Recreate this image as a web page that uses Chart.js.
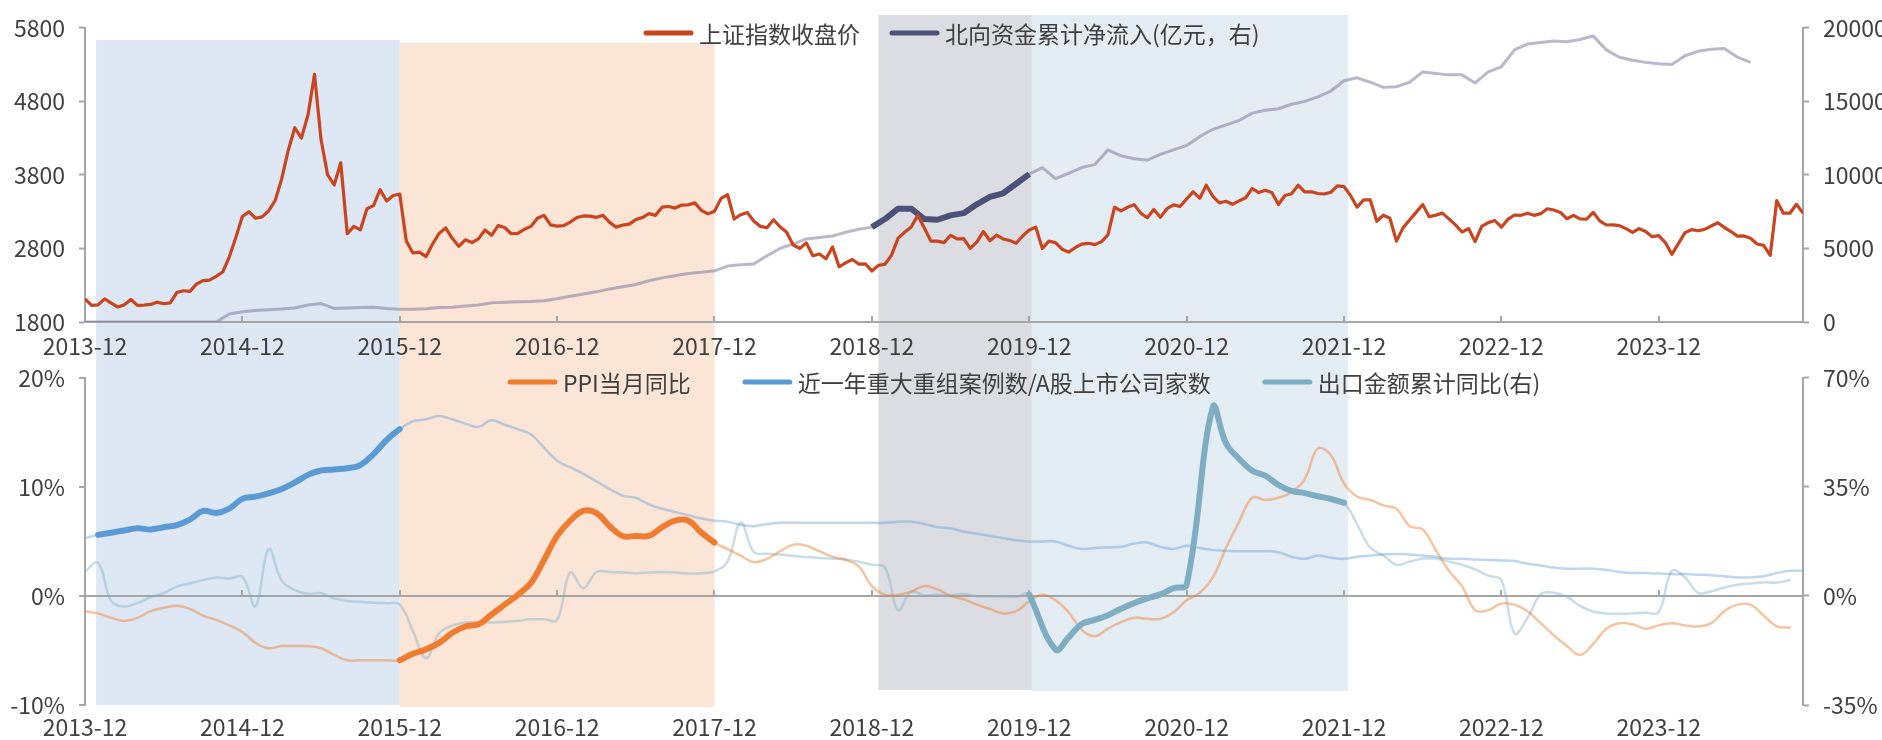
<!DOCTYPE html>
<html>
<head>
<meta charset="utf-8">
<script src="https://cdn.jsdelivr.net/npm/chart.js@4.4.1/dist/chart.umd.min.js"></script>
<style>
  body { margin: 0; background: #fff; }
  #wrap { position: relative; width: 1882px; height: 740px; overflow: hidden; }
  canvas { position: absolute; left: 0; }
</style>
</head>
<body>
<div id="wrap">
  <canvas id="topChart" width="1882" height="362" style="top:0"></canvas>
  <canvas id="bottomChart" width="1882" height="390" style="top:350px"></canvas>
</div>
<script>
// x values are months counted from the end of 2013-12 (tick every 12 = "YYYY-12")

// 上证指数收盘价, two readings per month (mid / end), first value = 2013-12 close
const sseStep = 0.5;
const sseClose = [
  2116,
  // 2014
  2025, 2033, 2115, 2056, 2004, 2033, 2105, 2026, 2030, 2039, 2070, 2048,
  2060, 2200, 2225, 2217, 2315, 2363, 2370, 2420, 2480, 2683, 2950, 3235,
  // 2015
  3300, 3210, 3230, 3310, 3450, 3748, 4135, 4441, 4300, 4612, 5166, 4277,
  3800, 3663, 3965, 3000, 3100, 3053, 3340, 3383, 3600, 3445, 3520, 3539,
  // 2016
  2900, 2738, 2750, 2688, 2860, 3004, 3080, 2938, 2830, 2917, 2880, 2930,
  3050, 2979, 3110, 3085, 3000, 3005, 3060, 3100, 3210, 3250, 3120, 3104,
  // 2017
  3110, 3159, 3220, 3242, 3240, 3223, 3250, 3155, 3090, 3117, 3130, 3192,
  3220, 3273, 3250, 3361, 3370, 3349, 3390, 3393, 3420, 3317, 3270, 3307,
  // 2018
  3480, 3530, 3200, 3259, 3290, 3169, 3100, 3082, 3190, 3095, 3020, 2847,
  2800, 2876, 2700, 2725, 2660, 2821, 2550, 2603, 2650, 2588, 2590, 2494,
  // 2019
  2570, 2585, 2710, 2941, 3020, 3091, 3250, 3078, 2900, 2899, 2880, 2979,
  2930, 2933, 2800, 2886, 3030, 2905, 2980, 2929, 2910, 2871, 2970, 3050,
  // 2020
  3090, 2800, 2900, 2880, 2790, 2750, 2810, 2860, 2870, 2852, 2890, 2985,
  3360, 3310, 3360, 3396, 3280, 3218, 3330, 3225, 3340, 3392, 3370, 3473,
  // 2021
  3570, 3483, 3660, 3509, 3420, 3441, 3400, 3447, 3490, 3615, 3560, 3591,
  3560, 3397, 3520, 3544, 3660, 3568, 3570, 3547, 3540, 3564, 3650, 3640,
  // 2022
  3520, 3361, 3460, 3462, 3170, 3252, 3210, 2900, 3080, 3186, 3290, 3398,
  3230, 3253, 3280, 3202, 3120, 3024, 3070, 2893, 3100, 3151, 3180, 3089,
  // 2023
  3195, 3255, 3250, 3280, 3250, 3273, 3340, 3323, 3290, 3204, 3250, 3202,
  3200, 3291, 3175, 3119, 3120, 3110, 3070, 3018, 3070, 3030, 2960, 2975,
  // 2024
  2880, 2720, 2865, 3015, 3055, 3041, 3060, 3105, 3150, 3087, 3030, 2967,
  2970, 2938, 2860, 2842, 2705, 3450, 3280, 3279, 3400, 3280
];

// 北向资金累计净流入(亿元), month end from 2013-12
const northFlow = [
  0, 0, 0, 0, 0, 0, 0, 0, 0, 0, 0, 550, 700,
  780, 830, 880, 950, 1150, 1250, 920, 960, 980, 1000, 920, 870,
  860, 900, 980, 1000, 1080, 1150, 1300, 1350, 1380, 1400, 1450, 1580,
  1750, 1900, 2050, 2250, 2400, 2550, 2800, 3000, 3150, 3300, 3380, 3480,
  3800, 3900, 3950, 4500, 5000, 5300, 5650, 5750, 5850, 6100, 6300, 6450,
  7000, 7700, 7700, 7000, 6950, 7250, 7400, 8000, 8500, 8750, 9400, 10050,
  10500, 9750, 10100, 10500, 10700, 11700, 11300, 11100, 11000, 11400, 11700, 12000,
  12600, 13100, 13400, 13700, 14200, 14400, 14500, 14800, 15000, 15300, 15700, 16400,
  16600, 16300, 15950, 16000, 16300, 17000, 16900, 16800, 16800, 16250, 17000, 17350,
  18500, 18900, 19000, 19100, 19050, 19200, 19450, 18500, 18000, 17800, 17650, 17550,
  17500, 18100, 18400, 18550, 18600, 18000, 17650
];

// PPI当月同比 (%), month end from 2013-12
const ppiYoY = [
  -1.4,
  -1.6, -2.0, -2.3, -2.0, -1.4, -1.1, -0.9, -1.2, -1.8, -2.2, -2.7, -3.3,
  -4.3, -4.8, -4.6, -4.6, -4.6, -4.8, -5.4, -5.9, -5.9, -5.9, -5.9, -5.9,
  -5.3, -4.9, -4.3, -3.4, -2.8, -2.6, -1.7, -0.8, 0.1, 1.2, 3.3, 5.5,
  6.9, 7.8, 7.6, 6.4, 5.5, 5.5, 5.5, 6.3, 6.9, 6.9, 5.8, 4.9,
  4.3, 3.7, 3.1, 3.4, 4.1, 4.7, 4.6, 4.1, 3.6, 3.3, 2.7, 0.9,
  0.1, 0.1, 0.4, 0.9, 0.6, 0.0, -0.3, -0.8, -1.2, -1.6, -1.4, -0.5,
  0.1, -0.4, -1.5, -3.1, -3.7, -3.0, -2.4, -2.0, -2.1, -2.1, -1.5, -0.4,
  0.3, 1.7, 4.4, 6.8, 9.0, 8.8, 9.0, 9.5, 10.7, 13.5, 12.9, 10.3,
  9.1, 8.8, 8.3, 8.0, 6.4, 6.1, 4.2, 2.3, 0.9, -1.3, -1.3, -0.7,
  -0.8, -1.4, -2.5, -3.6, -4.6, -5.4, -4.4, -3.0, -2.5, -2.6, -3.0, -2.7,
  -2.5, -2.7, -2.8, -2.5, -1.4, -0.8, -0.8, -1.8, -2.8, -2.9
];

// 近一年重大重组案例数/A股上市公司家数 (%), month end from 2013-12
const mnaRatio = [
  5.3,
  5.6, 5.8, 6.0, 6.2, 6.1, 6.3, 6.5, 7.0, 7.8, 7.6, 8.0, 8.9,
  9.1, 9.4, 9.8, 10.4, 11.1, 11.5, 11.6, 11.7, 12.0, 13.0, 14.3, 15.3,
  16.0, 16.2, 16.5, 16.2, 15.8, 15.5, 16.1, 15.7, 15.3, 14.8, 13.6, 12.4,
  11.8, 11.2, 10.5, 9.8, 9.2, 9.0, 8.4, 8.0, 7.7, 7.4, 7.1, 6.9,
  6.8, 6.5, 6.4, 6.6, 6.7, 6.7, 6.7, 6.7, 6.7, 6.7, 6.7, 6.7,
  6.7, 6.8, 6.8, 6.6, 6.3, 6.2, 5.9, 5.7, 5.5, 5.3, 5.1, 5.0,
  5.0, 5.0, 4.6, 4.3, 4.4, 4.45, 4.5, 4.8, 4.9, 4.5, 4.3, 4.6,
  4.4, 4.2, 4.15, 4.1, 4.1, 4.1, 4.0, 3.6, 3.4, 3.7, 3.5, 3.4,
  3.6, 3.7, 3.8, 3.85, 3.8, 3.7, 3.6, 3.4, 3.4, 3.35, 3.3, 3.25,
  3.2, 2.95, 2.8, 2.6, 2.5, 2.5, 2.5, 2.4, 2.2, 2.1, 2.1, 2.06,
  2.0, 2.0, 1.95, 1.9, 1.8, 1.7, 1.7, 1.8, 2.1, 2.3, 2.3
];

// 出口金额累计同比 (%), month end from 2013-12, right axis
const exportYoY = [
  7.9,
  10.6, -1.6, -3.4, -2.3, -0.4, 0.9, 3.0, 4.0, 5.1, 5.9, 5.6, 6.1,
  -3.3, 15.0, 4.9, 1.9, 0.7, 0.9, -0.8, -1.6, -1.9, -2.2, -2.3, -2.8,
  -11.2, -20.0, -12.0, -9.5, -8.5, -8.5, -8.5, -8.3, -8.0, -7.5, -7.5, -7.7,
  7.5, 2.5, 7.7, 7.7, 7.5, 7.3, 7.5, 7.7, 7.5, 7.2, 7.3, 7.9,
  11.1, 23.5, 14.1, 13.5, 13.3, 12.8, 12.5, 12.2, 12.0, 11.7, 11.0, 10.0,
  9.1, -4.6, 1.4, 0.2, 0.5, 0.1, 0.6, -0.1, -0.1, -0.2, -0.3, 0.5,
  null, -17.2, -13.3, -9.0, -7.7, -6.2, -4.1, -2.3, -0.8, 0.5, 2.5, 3.6,
  null, 60.6, 49.0, 44.0, 40.2, 38.6, 35.6, 33.7, 33.0, 32.0, 31.1, 29.9,
  23.0, 15.5, 13.0, 10.0, 11.0, 12.0, 12.0, 11.0, 10.0, 8.5, 6.5, 5.0,
  -12.0, -7.0, 0.5, 1.0, -0.3, -3.2, -5.0, -5.6, -5.7, -5.6, -5.4, -5.2,
  8.0, 6.0, 1.0, 1.5, 2.7, 3.6, 4.0, 4.4, 4.3, 5.1
];

// highlighted windows (months)
const mnaWindow = [1, 24];
const ppiWindow = [24, 48];
const northWindow = [60, 72];
const exportWindow = [72, 96];

// shaded periods: from / to in months, vertical extent in page pixels
const periods = [
  { from: 0.85, to: 24, color: '#dee8f4', y0: 40, y1: 705 },
  { from: 24, to: 48, color: '#fbe5d7', y0: 43, y1: 707 },
  { from: 60.5, to: 72.2, color: '#dcdde3', y0: 15, y1: 690 },
  { from: 72.2, to: 96.3, color: '#e5edf4', y0: 15, y1: 691 }
];

const FONT = "'Noto Sans CJK SC', 'Noto Sans', sans-serif";
const FONT_SIZE = 23;
const TEXT = '#404040';
const AXIS = '#a6a6a6';
const X_MAX = 131;
const TOP_CANVAS_END = 362;

Chart.defaults.font.family = FONT;
Chart.defaults.font.size = FONT_SIZE;
Chart.defaults.color = TEXT;

const toPoints = (arr, step = 1) => arr.map((v, i) => ({ x: i * step, y: v }));
const inWindow = (pts, [a, b]) => pts.filter(p => p.x >= a && p.x <= b);
const yearLabel = v => `${2013 + v / 12}-12`;
const plain = v => String(v);
const pct = v => v + '%';

// pageTop: where this canvas sits on the page; pageFrom / pageTo: the slice it paints
function shading(pageTop, pageFrom, pageTo) {
  return {
    id: 'shading',
    beforeDraw(chart) {
      const { ctx, scales: { x } } = chart;
      ctx.save();
      periods.forEach(p => {
        const x0 = x.getPixelForValue(p.from);
        const x1 = x.getPixelForValue(p.to);
        const top = Math.max(p.y0, pageFrom) - pageTop;
        const bottom = Math.min(p.y1, pageTo) - pageTop;
        if (bottom <= top) return;
        ctx.fillStyle = p.color;
        ctx.fillRect(x0, top, x1 - x0, bottom - top);
      });
      ctx.restore();
    }
  };
}

function upTicks(baseOf) {
  return {
    id: 'upTicks',
    afterDatasetsDraw(chart) {
      const { ctx, scales: { x } } = chart;
      const base = baseOf(chart);
      ctx.save();
      ctx.strokeStyle = AXIS;
      ctx.lineWidth = 2;
      x.ticks.forEach(t => {
        const px = Math.round(x.getPixelForValue(t.value));
        ctx.beginPath();
        ctx.moveTo(px, base);
        ctx.lineTo(px, base - 6);
        ctx.stroke();
      });
      ctx.restore();
    }
  };
}

function lineLegend(startX, y, gap) {
  return {
    id: 'lineLegend',
    afterDraw(chart) {
      const ctx = chart.ctx;
      ctx.save();
      ctx.font = `${FONT_SIZE}px ${FONT}`;
      ctx.textBaseline = 'middle';
      let x = startX;
      chart.data.datasets.filter(d => d.inLegend).forEach(d => {
        ctx.strokeStyle = d.borderColor;
        ctx.lineWidth = 5;
        ctx.lineCap = 'round';
        ctx.beginPath();
        ctx.moveTo(x + 3, y);
        ctx.lineTo(x + 48, y);
        ctx.stroke();
        ctx.fillStyle = TEXT;
        ctx.fillText(d.label, x + 56, y + 1);
        x += 56 + ctx.measureText(d.label).width + gap;
      });
      ctx.restore();
    }
  };
}

const yAxisBase = (width, extra) => Object.assign({
  afterFit: s => { s.width = width; },
  grid: { drawOnChartArea: false, tickLength: 6, tickColor: AXIS, tickWidth: 2 },
  border: { color: AXIS, width: 2 }
}, extra);

// ---------- top chart ----------
const ssePts = toPoints(sseClose, sseStep);
const northPts = toPoints(northFlow);

new Chart(document.getElementById('topChart'), {
  type: 'line',
  data: {
    datasets: [
      { label: '上证指数收盘价', data: ssePts, borderColor: '#c9441f', borderWidth: 3.2, yAxisID: 'y', order: 0, inLegend: true },
      { label: '北向资金累计净流入(亿元，右)', data: inWindow(northPts, northWindow), borderColor: '#4d5078', borderWidth: 6, yAxisID: 'y1', order: 1, inLegend: true },
      { label: 'north-all', data: northPts, borderColor: 'rgba(118,114,150,0.5)', borderWidth: 3, yAxisID: 'y1', order: 2 }
    ]
  },
  options: {
    responsive: false,
    animation: false,
    layout: { padding: { top: 24, left: 0, right: 0, bottom: 0 } },
    elements: { point: { radius: 0 }, line: { tension: 0, borderJoinStyle: 'round' } },
    plugins: { legend: { display: false }, tooltip: { enabled: false } },
    scales: {
      x: {
        type: 'linear', min: 0, max: X_MAX,
        afterFit: s => { s.height = 40; },
        grid: { display: false, drawTicks: false },
        border: { color: AXIS, width: 2 },
        ticks: { stepSize: 12, includeBounds: false, autoSkip: false, maxRotation: 0, padding: 10, callback: yearLabel }
      },
      y: yAxisBase(85, { position: 'left', min: 1800, max: 5800, ticks: { stepSize: 1000, padding: 14, callback: plain } }),
      y1: yAxisBase(79, { position: 'right', min: 0, max: 20000, ticks: { stepSize: 5000, padding: 14, callback: plain } })
    }
  },
  plugins: [shading(0, 0, TOP_CANVAS_END), upTicks(c => c.chartArea.bottom), lineLegend(643, 33, 29)]
});

// ---------- bottom chart ----------
const ppiPts = toPoints(ppiYoY);
const mnaPts = toPoints(mnaRatio);
const exportPts = toPoints(exportYoY);

new Chart(document.getElementById('bottomChart'), {
  type: 'line',
  data: {
    datasets: [
      { label: 'PPI当月同比', data: inWindow(ppiPts, ppiWindow), borderColor: '#ee7d31', borderWidth: 6, yAxisID: 'y', order: 0, inLegend: true },
      { label: '近一年重大重组案例数/A股上市公司家数', data: inWindow(mnaPts, mnaWindow), borderColor: '#5b9bd5', borderWidth: 6, yAxisID: 'y', order: 0, inLegend: true },
      { label: '出口金额累计同比(右)', data: inWindow(exportPts, exportWindow), borderColor: '#7fadc3', borderWidth: 6, yAxisID: 'y1', order: 0, inLegend: true },
      { label: 'ppi-all', data: ppiPts, borderColor: 'rgba(237,125,49,0.45)', borderWidth: 2.5, yAxisID: 'y', order: 1 },
      { label: 'mna-all', data: mnaPts, borderColor: 'rgba(91,155,213,0.4)', borderWidth: 2.5, yAxisID: 'y', order: 1 },
      { label: 'export-all', data: exportPts, borderColor: 'rgba(127,174,196,0.42)', borderWidth: 2.5, yAxisID: 'y1', order: 1 }
    ]
  },
  options: {
    responsive: false,
    animation: false,
    spanGaps: true,
    layout: { padding: { top: 20, left: 0, right: 0, bottom: 0 } },
    elements: { point: { radius: 0 }, line: { tension: 0.4, borderJoinStyle: 'round', borderCapStyle: 'round' } },
    plugins: { legend: { display: false }, tooltip: { enabled: false } },
    scales: {
      x: {
        type: 'linear', min: 0, max: X_MAX,
        afterFit: s => { s.height = 35; },
        grid: { display: false, drawTicks: false },
        border: { display: false },
        ticks: { stepSize: 12, includeBounds: false, autoSkip: false, maxRotation: 0, padding: 8, callback: yearLabel }
      },
      y: yAxisBase(85, {
        position: 'left', min: -10, max: 20,
        ticks: { stepSize: 10, padding: 14, callback: pct },
        grid: {
          drawOnChartArea: true, lineWidth: 2, tickLength: 6, tickColor: AXIS, tickWidth: 2,
          color: ctx => (ctx.tick && ctx.tick.value === 0 ? AXIS : 'rgba(0,0,0,0)')
        }
      }),
      y1: yAxisBase(79, { position: 'right', min: -35, max: 70, ticks: { stepSize: 35, padding: 14, callback: pct } })
    }
  },
  plugins: [shading(350, TOP_CANVAS_END, 740), upTicks(c => c.scales.y.getPixelForValue(0)), lineLegend(507, 32, 51)]
});
</script>
</body>
</html>
